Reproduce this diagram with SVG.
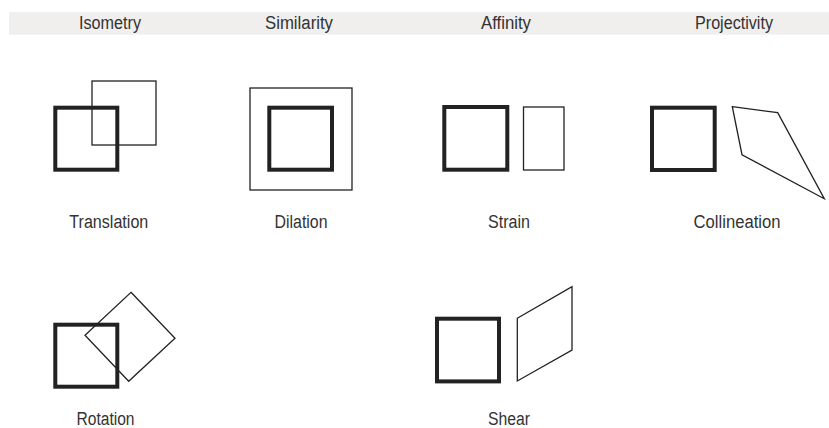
<svg xmlns="http://www.w3.org/2000/svg" width="829" height="428" viewBox="0 0 829 428">
<style>
.t{font-family:"Liberation Sans",Arial,sans-serif;font-size:18px;fill:#333;text-anchor:middle}
.thick{fill:none;stroke:#222;stroke-width:4}
.thin{fill:none;stroke:#222;stroke-width:1.3;stroke-linejoin:miter}
</style>
<rect x="0" y="0" width="829" height="428" fill="#fff"/>
<g id="header">
<rect x="9" y="12" width="820" height="22.7" fill="#f0efed"/>
<text class="t" x="110" y="29.3" textLength="62" lengthAdjust="spacingAndGlyphs">Isometry</text>
<text class="t" x="299" y="29.3" textLength="68" lengthAdjust="spacingAndGlyphs">Similarity</text>
<text class="t" x="506" y="29.3" textLength="50" lengthAdjust="spacingAndGlyphs">Affinity</text>
<text class="t" x="734" y="29.3" textLength="78" lengthAdjust="spacingAndGlyphs">Projectivity</text>
</g>
<g id="translation">
<rect class="thin" x="92" y="81" width="64" height="64"/>
<rect class="thick" x="55.3" y="107.7" width="62" height="62"/>
<text class="t" x="108.8" y="227.7" textLength="79" lengthAdjust="spacingAndGlyphs">Translation</text>
</g>
<g id="dilation">
<rect class="thin" x="250" y="88" width="102" height="102"/>
<rect class="thick" x="269.3" y="107.7" width="62.7" height="62"/>
<text class="t" x="301" y="227.7" textLength="53" lengthAdjust="spacingAndGlyphs">Dilation</text>
</g>
<g id="strain">
<rect class="thick" x="444.3" y="107" width="63" height="62.7"/>
<rect class="thin" x="523.5" y="107" width="40.5" height="63"/>
<text class="t" x="509" y="227.7" textLength="42" lengthAdjust="spacingAndGlyphs">Strain</text>
</g>
<g id="collineation">
<rect class="thick" x="652" y="107.7" width="62.7" height="62.3"/>
<polygon class="thin" points="732.3,106.7 777.7,112.7 824.3,198.7 742,154.7"/>
<text class="t" x="737" y="228" textLength="87" lengthAdjust="spacingAndGlyphs">Collineation</text>
</g>
<g id="rotation">
<rect class="thick" x="55.3" y="324.7" width="62" height="62"/>
<polygon class="thin" points="131,292.3 175,338.3 128.7,381.3 85,335.3"/>
<text class="t" x="105.5" y="424.5" textLength="58" lengthAdjust="spacingAndGlyphs">Rotation</text>
</g>
<g id="shear">
<rect class="thick" x="437" y="318.7" width="62" height="62.7"/>
<polygon class="thin" points="517.3,318.3 572,286.7 572,350 517.3,381"/>
<text class="t" x="509" y="424.5" textLength="42" lengthAdjust="spacingAndGlyphs">Shear</text>
</g>
</svg>
